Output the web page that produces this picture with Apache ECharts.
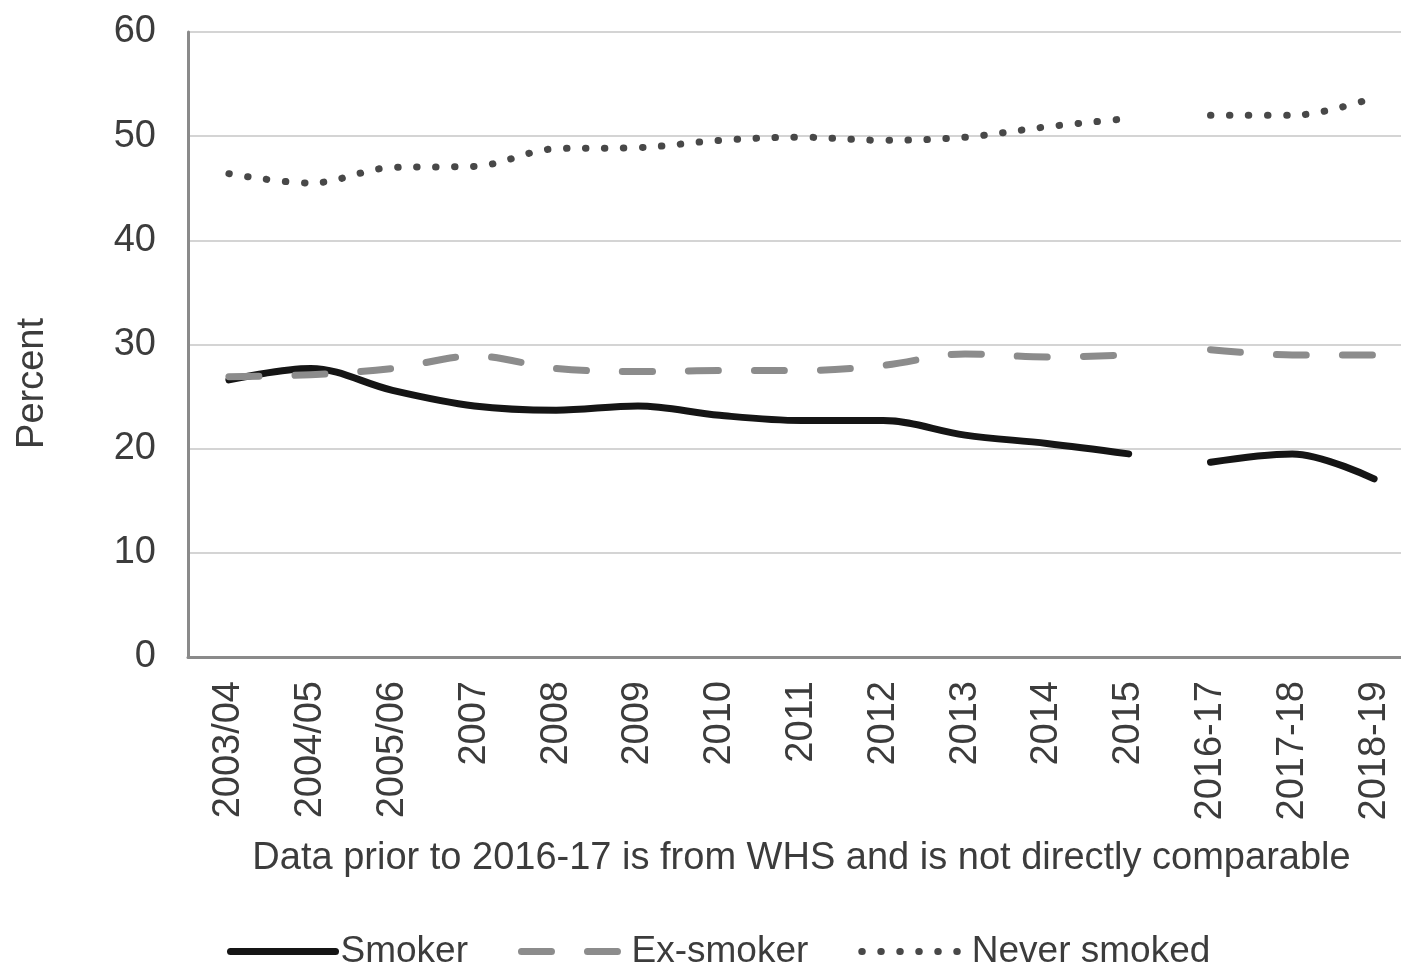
<!DOCTYPE html>
<html><head><meta charset="utf-8">
<script src="https://cdn.jsdelivr.net/npm/echarts@6/dist/echarts.min.js"></script>
<style>html,body{margin:0;padding:0;background:#fff}#chart{width:1401px;height:969px}</style>
</head><body><div id="chart"></div>
<script>
// Categories (x axis)
const categories = ['2003/04','2004/05','2005/06','2007','2008','2009','2010','2011','2012','2013','2014','2015','2016-17','2017-18','2018-19'];
// Y-axis ticks
const yTicks = [0, 10, 20, 30, 40, 50, 60];
// WHS data (2003/04 - 2015), 12 values
const smokerWHS = [26.6, 27.7, 25.6, 24.1, 23.7, 24.1, 23.2, 22.7, 22.7, 21.3, 20.5, 19.5];
const exSmokerWHS = [26.9, 27.1, 27.7, 28.9, 27.7, 27.4, 27.5, 27.5, 28.0, 29.1, 28.8, 29.0];
const neverWHS = [46.4, 45.5, 47.0, 47.1, 48.8, 48.9, 49.6, 49.9, 49.6, 49.9, 50.9, 51.7];
// New survey data (2016-17 - 2018-19), 3 values
const smokerNew = [18.7, 19.5, 17.1];
const exSmokerNew = [29.5, 29.0, 29.0];
const neverNew = [52.0, 52.0, 53.7];

const seriesNames = ['Smoker', 'Ex-smoker', 'Never smoked'];
const xTitle = 'Data prior to 2016-17 is from WHS and is not directly comparable';
const yTitle = 'Percent';

function padBefore(arr) { return new Array(categories.length - arr.length).fill(null).concat(arr); }
function padAfter(arr) { return arr.concat(new Array(categories.length - arr.length).fill(null)); }

const styles = {
  'Smoker': { color: '#151515', width: 7, type: 'solid', cap: 'round' },
  'Ex-smoker': { color: '#8c8c8c', width: 7, type: [30, 36], cap: 'round' },
  'Never smoked': { color: '#484848', width: 7, type: [0.5, 18.5], cap: 'round' }
};
const groups = [
  ['Smoker', smokerWHS, smokerNew],
  ['Ex-smoker', exSmokerWHS, exSmokerNew],
  ['Never smoked', neverWHS, neverNew]
];
const series = [];
groups.forEach(([name, a, b]) => {
  const s = styles[name];
  [padAfter(a), padBefore(b)].forEach(d => {
    series.push({
      name: name, type: 'line', data: d, smooth: 0.35, symbol: 'none', showSymbol: false,
      connectNulls: false,
      itemStyle: { color: s.color },
      lineStyle: { color: s.color, width: s.width, type: s.type, cap: s.cap, join: 'round' }
    });
  });
});

const font = 'Liberation Sans, Arial, sans-serif';
const txt = '#3c3c3c';
const fs = 38;
const chart = echarts.init(document.getElementById('chart'), null, { renderer: 'canvas' });
chart.setOption({
  backgroundColor: '#ffffff',
  animation: false,
  grid: { left: 188, top: 32, width: 1227, bottom: 312, outerBoundsMode: 'none', containLabel: false },
  xAxis: {
    type: 'category', data: categories, boundaryGap: true,
    name: xTitle, nameLocation: 'middle', nameGap: 183,
    nameTextStyle: { fontSize: fs, color: txt, fontFamily: font },
    axisLine: { lineStyle: { color: '#8a8a8a', width: 3 } },
    axisTick: { show: false },
    axisLabel: { rotate: 90, margin: 24, fontSize: fs, color: txt, fontFamily: font, interval: 0 },
    splitLine: { show: false }
  },
  yAxis: {
    type: 'value', min: yTicks[0], max: yTicks[yTicks.length - 1], interval: 10,
    axisLine: { show: true, lineStyle: { color: '#8a8a8a', width: 3 } },
    axisTick: { show: false },
    axisLabel: { margin: 32, fontSize: fs, color: txt, fontFamily: font },
    splitLine: { lineStyle: { color: '#d4d4d4', width: 2 } }
  },
  legend: {
    data: seriesNames, left: 222, top: 928, itemWidth: 105, itemHeight: 20, itemGap: 50,
    textStyle: { fontSize: 37, color: txt, fontFamily: font, padding: [0, 0, 0, 0] },
    itemStyle: { opacity: 0, borderWidth: 0 },
    lineStyle: { width: 7 }
  },
  graphic: [{
    type: 'text', left: 14, top: 318, rotation: Math.PI / 2,
    style: { text: yTitle, fontSize: fs, fill: txt, fontFamily: font }
  }],
  series: series
});
</script></body></html>
